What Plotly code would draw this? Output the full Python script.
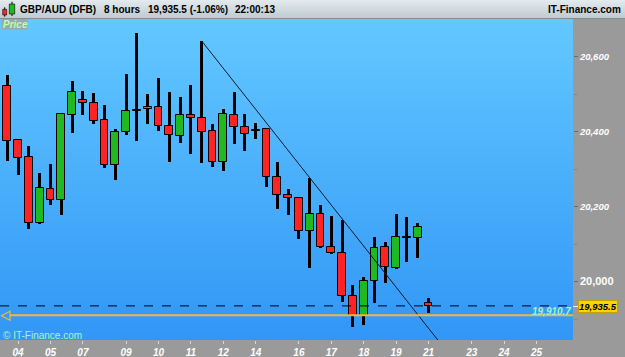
import plotly.graph_objects as go

# ---------------- data ----------------
idx = list(range(40))
opens = [20522, 20378, 20333, 20157, 20248, 20217, 20444, 20484, 20477, 20432,
         20310, 20398, 20456, 20460, 20467, 20416, 20389, 20444, 20437, 20402,
         20319, 20444, 20412, 20402, 20406, 20279, 20230, 20222, 20134, 20180,
         20092, 20077, 19963, 19909, 20002, 20092, 20036, 20116, 20117, 19944]
highs = [20551, 20380, 20363, 20289, 20314, 20449, 20535, 20508, 20503, 20470,
         20408, 20554, 20662, 20501, 20544, 20506, 20493, 20525, 20642, 20421,
         20460, 20506, 20447, 20423, 20409, 20320, 20246, 20224, 20277, 20205,
         20175, 20165, 19991, 20012, 20120, 20107, 20180, 20172, 20157, 19957]
lows = [20323, 20285, 20140, 20154, 20205, 20178, 20397, 20445, 20421, 20304,
        20271, 20391, 20376, 20421, 20402, 20318, 20369, 20341, 20316, 20307,
        20295, 20368, 20349, 20381, 20253, 20193, 20179, 20113, 20036, 20090,
        20075, 19945, 19880, 19885, 19942, 19996, 20033, 20053, 20064, 19916]
closes = [20376, 20331, 20157, 20249, 20217, 20446, 20505, 20477, 20429, 20310,
          20398, 20455, 20459, 20467, 20416, 20390, 20444, 20437, 20400, 20319,
          20447, 20412, 20393, 20405, 20279, 20231, 20222, 20134, 20180, 20092,
          20077, 19963, 19909, 20002, 20089, 20040, 20118, 20119, 20145, 19935.5]

tick_idx = [1, 4, 7, 11, 14, 17, 20, 23, 27, 30, 33, 36, 39, 43, 46, 49]
tick_lbl = ['04', '05', '07', '09', '10', '11', '12', '14', '16', '17', '18',
            '19', '21', '23', '24', '25']
y_ticks = [20000, 20200, 20400, 20600]
y_tick_lbl = ['20,000', '20,200', '20,400', '20,600']
y_minor = [19900, 20100, 20300, 20500]

last_price = 19935.5
ref_level = 19910.7
trend_x = [18, 41]
trend_y = [20642, 19803]

# ---------------- geometry helpers ----------------
W, H = 625, 357
ML, MR, MT, MB = 0, 52, 19, 17
PW, PH = W - ML - MR, H - MT - MB
XR = [-0.676, 52.38]
YR = [19844.5, 20700.5]
FONT = "Liberation Sans"


def px(x):
    return (x - ML) / PW


def py(y):
    return (H - MB - y) / PH


RED, GREEN = '#ff2323', '#22b822'

fig = go.Figure()

# background gradient
fig.add_trace(go.Heatmap(
    x=[-5, 60], y=YR, z=[[0, 0], [1, 1]], zsmooth='best',
    colorscale=[[0, '#3196f6'], [1, '#63c8ff']], showscale=False,
    hoverinfo='skip'))

# wicks
fig.add_trace(go.Bar(
    x=idx, base=lows, y=[h - l for h, l in zip(highs, lows)], width=0.27,
    marker=dict(color='#000000', line=dict(width=0)), hoverinfo='skip'))

# bodies
body_base = [min(o, c) for o, c in zip(opens, closes)]
body_h = [abs(c - o) for o, c in zip(opens, closes)]
body_col = []
for o, c in zip(opens, closes):
    if abs(c - o) < 4:
        body_col.append('#000000')
    elif c > o:
        body_col.append(GREEN)
    else:
        body_col.append(RED)
fig.add_trace(go.Bar(
    x=idx, base=body_base, y=body_h, width=0.72,
    marker=dict(color=body_col, line=dict(color='#000000', width=1)),
    hoverinfo='skip'))

# trend line
fig.add_trace(go.Scatter(x=trend_x, y=trend_y, mode='lines',
                         line=dict(color='#0a1a2a', width=1), hoverinfo='skip'))

shapes = []
# last price dashed line
shapes.append(dict(type='line', xref='paper', yref='y', x0=0, x1=1,
                   y0=last_price, y1=last_price,
                   line=dict(color='#000000', width=1, dash='dash')))
# reference level line
shapes.append(dict(type='line', xref='paper', yref='y', x0=px(10), x1=1,
                   y0=ref_level, y1=ref_level,
                   line=dict(color='#f6b632', width=2)))
yl = 315.7
shapes.append(dict(type='path', xref='paper', yref='paper',
                   path=f"M {px(10)},{py(yl-4.5)} L {px(1.5)},{py(yl)} L {px(10)},{py(yl+4.5)} Z",
                   line=dict(color='#f6b632', width=1.2), fillcolor='rgba(0,0,0,0)'))

# header gradient
top_c = (226, 234, 238)
bot_c = (190, 203, 209)
for r in range(MT):
    t = r / (MT - 1)
    c = tuple(int(top_c[k] + (bot_c[k] - top_c[k]) * t) for k in range(3))
    shapes.append(dict(type='rect', xref='paper', yref='paper',
                       x0=px(0), x1=px(W), y0=py(r + 1), y1=py(r),
                       line=dict(width=0), fillcolor='rgb(%d,%d,%d)' % c,
                       layer='below'))
shapes.append(dict(type='line', xref='paper', yref='paper', x0=px(0), x1=px(W),
                   y0=py(18.5), y1=py(18.5), line=dict(color='#7d8d94', width=1)))

# header icon
shapes += [
    dict(type='line', xref='paper', yref='paper', x0=px(4.7), x1=px(4.7),
         y0=py(7.3), y1=py(16.7), line=dict(color='#000', width=1)),
    dict(type='rect', xref='paper', yref='paper', x0=px(2.7), x1=px(6.7),
         y0=py(9.3), y1=py(15), line=dict(color='#000', width=0.6), fillcolor=RED),
    dict(type='line', xref='paper', yref='paper', x0=px(12), x1=px(12),
         y0=py(1.7), y1=py(16), line=dict(color='#000', width=1)),
    dict(type='rect', xref='paper', yref='paper', x0=px(9.3), x1=px(14.7),
         y0=py(4), y1=py(14), line=dict(color='#000', width=0.6), fillcolor=GREEN),
]

# "Price" box
shapes.append(dict(type='rect', xref='paper', yref='paper', x0=px(1.5), x1=px(27.5),
                   y0=py(29.5), y1=py(19), line=dict(width=0), fillcolor='#9ea8a8'))
# price box tick
shapes.append(dict(type='line', xref='paper', yref='paper', x0=px(573), x1=px(578),
                   y0=py(306.5), y1=py(306.5), line=dict(color='#f0f0f0', width=1)))

ann = []


def A(text, x, y, xa='left', size=10, color='#000', weight='bold', style='normal', **kw):
    ann.append(dict(text=text, xref='paper', yref='paper', x=px(x), y=py(y),
                    xanchor=xa, yanchor='middle', showarrow=False, borderpad=0,
                    font=dict(family=FONT, size=size, color=color, weight=weight,
                              style=style), **kw))


A('GBP/AUD (DFB)', 19, 9.5)
A('8 hours', 103, 9.5)
A('19,935.5 (-1.06%)', 147, 9.5)
A('22:00:13', 234, 9.5)
A('IT-Finance.com', 622, 9.5, xa='right')
A('Price', 2, 24.5, color='#b8ffb8', style='italic')
A('© IT-Finance.com', 2, 335.5, color='#a8f8b4', weight='normal')
A('19,910.7', 572, 311, xa='right', color='#a4f0cc', style='italic')
A('19,935.5', 578, 306.5, size=9.5, color='#000', style='italic',
  bgcolor='#ffd400', bordercolor='#c8a000', borderwidth=1)

y_text = []
for v, t in zip(y_ticks, y_tick_lbl):
    if v == 20000:
        y_text.append('<span style="font-size:11px">%s</span>' % t)
    else:
        y_text.append('<i>%s</i>' % t)

fig.update_layout(
    width=W, height=H, autosize=False,
    margin=dict(l=ML, r=MR, t=MT, b=MB, pad=0),
    paper_bgcolor='#9a9a9a', plot_bgcolor='#3fa8fb',
    showlegend=False, hovermode=False, barmode='overlay', bargap=0,
    shapes=shapes, annotations=ann,
    xaxis=dict(range=XR, showgrid=False, zeroline=False, showline=False,
               tickmode='array', tickvals=tick_idx, ticktext=tick_lbl,
               ticks='outside', ticklen=3, tickcolor='#d8d8d8', tickwidth=1,
               tickfont=dict(family=FONT, size=10, color='#ffffff',
                             weight='bold', style='italic')),
    yaxis=dict(range=YR, side='right', showgrid=False, zeroline=False,
               showline=False, tickmode='array', tickvals=y_ticks,
               ticktext=y_text, ticks='outside', ticklen=4, tickcolor='#5b6f80',
               tickfont=dict(family=FONT, size=9.5, color='#ffffff', weight='bold'),
               minor=dict(tickmode='array', tickvals=y_minor, ticks='outside',
                          ticklen=3, tickcolor='#7a8a96', showgrid=False)),
)

fig.write_html("out.html")
